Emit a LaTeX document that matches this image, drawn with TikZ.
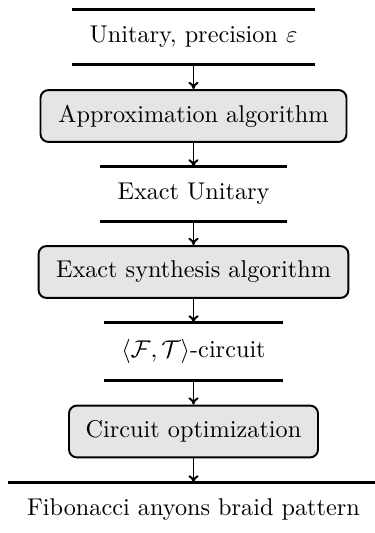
\documentclass[tikz,border=0pt]{standalone}
\usetikzlibrary{arrows.meta}
\begin{document}
\begin{tikzpicture}[x=0.4124pt,y=-0.4124pt,
  proc/.style={draw, thick, fill=gray!20, rounded corners=3.3pt, minimum height=21.4pt, inner sep=0pt},
  datum/.style={inner sep=0pt, minimum height=22.3pt},
  bar/.style={line width=1.6pt},
  flow/.style={-{To[length=3pt,width=4.2pt]}, thick}]
\useasboundingbox (0,0) rectangle (375,533);
\node[datum, minimum width=100.2pt] (d1) at (193.5,37) {Unitary, precision $\varepsilon$};
\node[proc, minimum width=126.2pt] (b1) at (193.5,116) {Approximation algorithm};
\node[datum, minimum width=77.1pt] (d2) at (193.5,194) {Exact Unitary};
\node[proc, minimum width=127.8pt] (b2) at (193.5,272) {Exact synthesis algorithm};
\node[datum, minimum width=73.8pt, minimum height=23.5pt] (d3) at (193.5,351.5) {$\langle\mathcal{F},\mathcal{T}\rangle$-circuit};
\node[proc, minimum width=102.7pt] (b3) at (193.5,431.5) {Circuit optimization};
\node[datum, minimum width=153pt] (d4) at (193.5,510) {Fibonacci anyons braid pattern};
\foreach \n in {d1,d2,d3}{
  \draw[bar] (\n.north west) -- (\n.north east);
  \draw[bar] (\n.south west) -- (\n.south east);
}
\draw[bar] (d4.north west) -- (d4.north east);
\draw[flow] (d1.south) -- (b1.north);
\draw[flow] (b1.south) -- (d2.north);
\draw[flow] (d2.south) -- (b2.north);
\draw[flow] (b2.south) -- (d3.north);
\draw[flow] (d3.south) -- (b3.north);
\draw[flow] (b3.south) -- (d4.north);
\end{tikzpicture}
\end{document}
